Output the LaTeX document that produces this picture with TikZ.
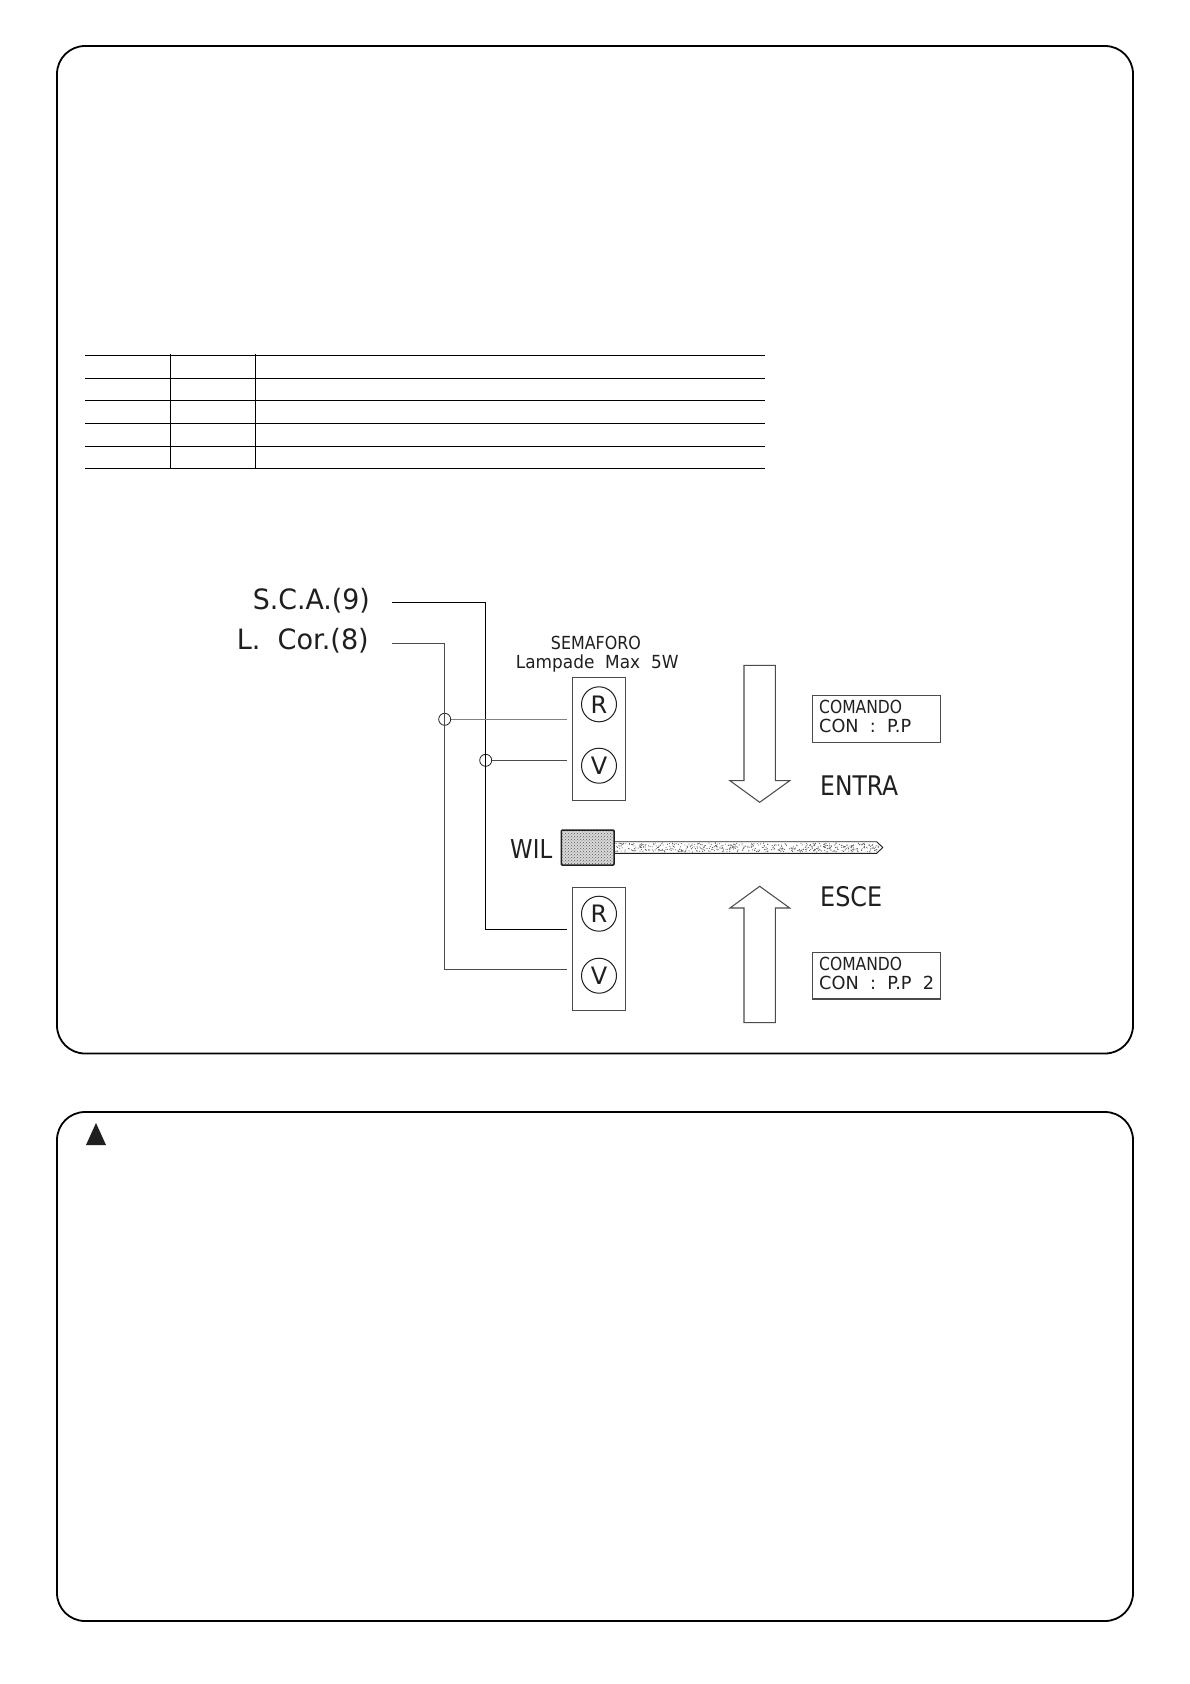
\documentclass[tikz,border=0pt]{standalone}
\usepackage{fontspec}
\usepackage{graphicx}
\setmainfont{DejaVu Sans}
\usetikzlibrary{patterns,calc}
\definecolor{inkc}{gray}{0.12}
\newcommand{\cadtext}[3]{\resizebox{#1pt}{\height}{\fontsize{#2pt}{#2pt}\selectfont #3}}
\tikzset{
  panel/.style={draw=black,line width=1.8pt,rounded corners=28pt},
  rule/.style={draw=black,line width=1.05pt},
  wire/.style={draw=inkc!80,line width=1pt},
  thinbox/.style={draw=inkc!80,line width=1.05pt},
  joint/.style={circle,draw=inkc,line width=.8pt,minimum size=12pt,inner sep=0pt},
  lamp/.style={circle,draw=inkc,line width=1pt,minimum size=35pt,inner sep=0pt,text=inkc,font=\fontsize{24}{24}\selectfont},
  label/.style={inner sep=0pt,anchor=base west,text=inkc},
  labelr/.style={inner sep=0pt,anchor=base east,text=inkc}
}
\begin{document}
\begin{tikzpicture}[x=1pt,y=-1pt]
\useasboundingbox (0,0) rectangle (1190,1684);
\fill[white] (0,0) rectangle (1190,1684);
% panels
\draw[panel] (57,46) rectangle (1133,1053.5);
\draw[panel] (57,1112) rectangle (1133,1621);
% warning triangle
\fill[inkc] (96,1123) -- (106,1145) -- (86,1145) -- cycle;
% empty table
\foreach \yy in {355.3,378.3,400.7,423.3,446.3,468.3}{\draw[rule] (85,\yy) -- (765,\yy);}
\foreach \xx in {170.3,255.3}{\draw[rule] (\xx,354) -- (\xx,469);}
% labels
\node[labelr] (sca) at (370,609.3) {\cadtext{117}{28}{S.C.A.(9)}};
\node[labelr] (lcor) at (369,649.3) {\cadtext{132}{28}{L.\ \ Cor.(8)}};
\node[label] (sem) at (550.7,649.3) {\cadtext{90}{18}{SEMAFORO}};
\node[label] (lmp) at (515.7,668.3) {\cadtext{162.6}{18}{Lampade\ \ Max\ \ 5W}};
\node[label] (wil) at (510,858.3) {\cadtext{42}{26}{WIL}};
\node[label] (entra) at (820,795) {\cadtext{78}{27}{ENTRA}};
\node[label] (esce) at (820,906) {\cadtext{62}{27}{ESCE}};
% lamp boxes
\draw[thinbox] (572.7,677.7) rectangle (625.7,800.3);
\draw[thinbox] (572.7,887.7) rectangle (625.7,1010.3);
\node[lamp] (r1) at (599,704.3) {R};
\node[lamp] (v1) at (599,765.7) {V};
\node[lamp] (r2) at (599,913.7) {R};
\node[lamp] (v2) at (599,975.7) {V};
% wires
\coordinate (s0) at (392,602.3);
\coordinate (l0) at (392,643.3);
\coordinate (sr) at (567,929.3);
\coordinate (lr) at (567,969.7);
\coordinate (rt) at (567,719.3);
\coordinate (vt) at (567,760.3);
\node[joint] (j1) at (444.7,719.3) {};
\node[joint] (j2) at (485.7,760.3) {};
\draw[wire,draw=black] (s0) -| (j2.center) |- (sr);
\draw[wire] (l0) -| (j1.center) |- (lr);
\draw[wire,draw=gray] (j1) -- (rt);
\draw[wire] (j2) -- (vt);
% command boxes
\draw[thinbox] (812.3,695.7) rectangle (940.3,742.3);
\node[label] (c1a) at (819,713.3) {\cadtext{83}{18}{COMANDO}};
\node[label] (c1b) at (819,732.7) {\cadtext{92}{18}{CON\ \ :\ \ P.P}};
\draw[thinbox] (812.3,952.7) rectangle (940.3,999);
\node[label] (c2a) at (819,970) {\cadtext{83}{18}{COMANDO}};
\node[label] (c2b) at (819,989.3) {\cadtext{115}{18}{CON\ \ :\ \ P.P\ \ 2}};
% arrows
\draw[thinbox] (744,665.3) -- (775.3,665.3) -- (775.3,780.7) -- (789.7,780.7) -- (759.7,802.3) -- (730,780.7) -- (744,780.7) -- cycle;
\draw[thinbox] (744,1022.7) -- (775.3,1022.7) -- (775.3,908) -- (789.7,908) -- (759.7,886.3) -- (730,908) -- (744,908) -- cycle;
% rod
\draw[draw=inkc,line width=.9pt,fill=white] (614,841.7) -- (876.7,841.7) -- (882.7,847.5) -- (876.7,853.3) -- (614,853.3) -- cycle;
\pgfmathsetseed{4711}
\foreach \i in {1,...,520}{
  \pgfmathsetmacro{\px}{615+rnd*264}
  \pgfmathsetmacro{\py}{843+rnd*9}
  \fill[gray!70!black] (\px,\py) circle (.55pt);
}
% knob
\draw[draw=inkc,line width=1.5pt,fill=gray!30,rounded corners=1pt] (561.3,830) rectangle (614,865);
\fill[pattern=crosshatch dots,pattern color=gray!70!black] (562.3,831) rectangle (613,864);
\end{tikzpicture}
\end{document}
